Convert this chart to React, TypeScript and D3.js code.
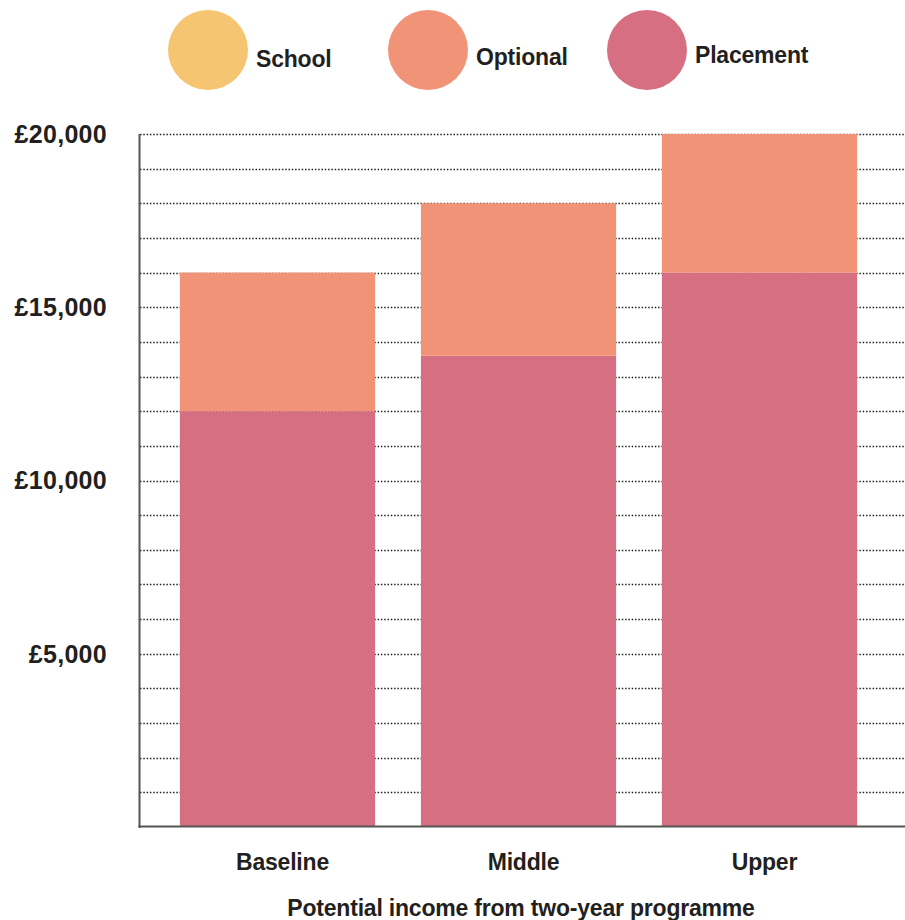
import React from "react";
import * as d3 from "d3";

const categories = ["Baseline", "Middle", "Upper"];
const seriesNames = ["School", "Optional", "Placement"];
const placement = [12000, 13600, 16000];
const optional = [4000, 4400, 4000];
const school = [0, 0, 0];
const yTickLabels = [5000, 10000, 15000, 20000];
const gridValues = d3.range(1000, 20001, 1000);
const colors = ["#F6C571", "#F19377", "#D76F83"];

const W = 905;
const H = 920;
const left = 140;
const right = 905;
const top = 134;
const bottom = 827;
const FONT = "'Liberation Sans', Arial, sans-serif";

export default function App() {
  const y = d3.scaleLinear().domain([0, 20000]).range([bottom, top]);
  const x = d3
    .scaleBand<string>()
    .domain(categories)
    .range([157, 880])
    .paddingInner(0.19)
    .paddingOuter(0.095);

  const rows = categories.map((c, i) => ({
    cat: c,
    Placement: placement[i],
    Optional: optional[i],
    School: school[i],
  }));
  const stack = d3.stack<any>().keys(["Placement", "Optional", "School"]);
  const layers = stack(rows);
  const colorOf: Record<string, string> = {
    School: colors[0],
    Optional: colors[1],
    Placement: colors[2],
  };

  const legendX = [208, 428, 647];

  return (
    <svg
      width={W}
      height={H}
      style={{ position: "absolute", left: 0, top: 0, display: "block" }}
      fontFamily={FONT}
    >
      <rect width={W} height={H} fill="#fff" />
      {/* legend */}
      {seriesNames.map((s, i) => (
        <g key={s}>
          <circle cx={legendX[i]} cy={50} r={40} fill={colors[i]} />
          <text
            x={legendX[i] + 48}
            y={[67, 65, 63][i]}
            fontSize={23}
            fontWeight="bold"
            letterSpacing={-0.2}
            fill="#231f20"
          >
            {s}
          </text>
        </g>
      ))}
      {/* grid */}
      {gridValues.map((v) => (
        <line
          key={v}
          x1={left}
          x2={right}
          y1={Math.round(y(v)) + 0.5}
          y2={Math.round(y(v)) + 0.5}
          stroke="#222"
          strokeWidth={1.4}
          strokeDasharray="1.5 1.8"
        />
      ))}
      {/* bars */}
      {layers.map((layer) =>
        layer.map((d, i) =>
          d[1] - d[0] > 0 ? (
            <rect
              key={layer.key + i}
              x={x(categories[i])}
              width={x.bandwidth()}
              y={y(d[1])}
              height={y(d[0]) - y(d[1])}
              fill={colorOf[layer.key]}
            />
          ) : null
        )
      )}
      {/* axes */}
      <line x1={139.5} x2={139.5} y1={top} y2={bottom + 1} stroke="#555" strokeWidth={2} />
      <line x1={138.5} x2={905} y1={826.5} y2={826.5} stroke="#555" strokeWidth={2} />
      {/* y labels */}
      {yTickLabels.map((v) => (
        <text
          key={v}
          x={107}
          y={y(v)}
          dy="0.35em"
          textAnchor="end"
          fontSize={25}
          fontWeight="bold"
          letterSpacing={0.3}
          fill="#231f20"
        >
          {"£" + d3.format(",")(v)}
        </text>
      ))}
      {/* x labels */}
      {categories.map((c) => (
        <text
          key={c}
          x={(x(c) as number) + x.bandwidth() / 2 + 5}
          y={870}
          textAnchor="middle"
          fontSize={23}
          fontWeight="bold"
          letterSpacing={-0.2}
          fill="#231f20"
        >
          {c}
        </text>
      ))}
      <text
        x={521}
        y={916}
        textAnchor="middle"
        fontSize={23}
        fontWeight="bold"
        letterSpacing={-0.2}
        fill="#231f20"
      >
        Potential income from two-year programme
      </text>
    </svg>
  );
}
